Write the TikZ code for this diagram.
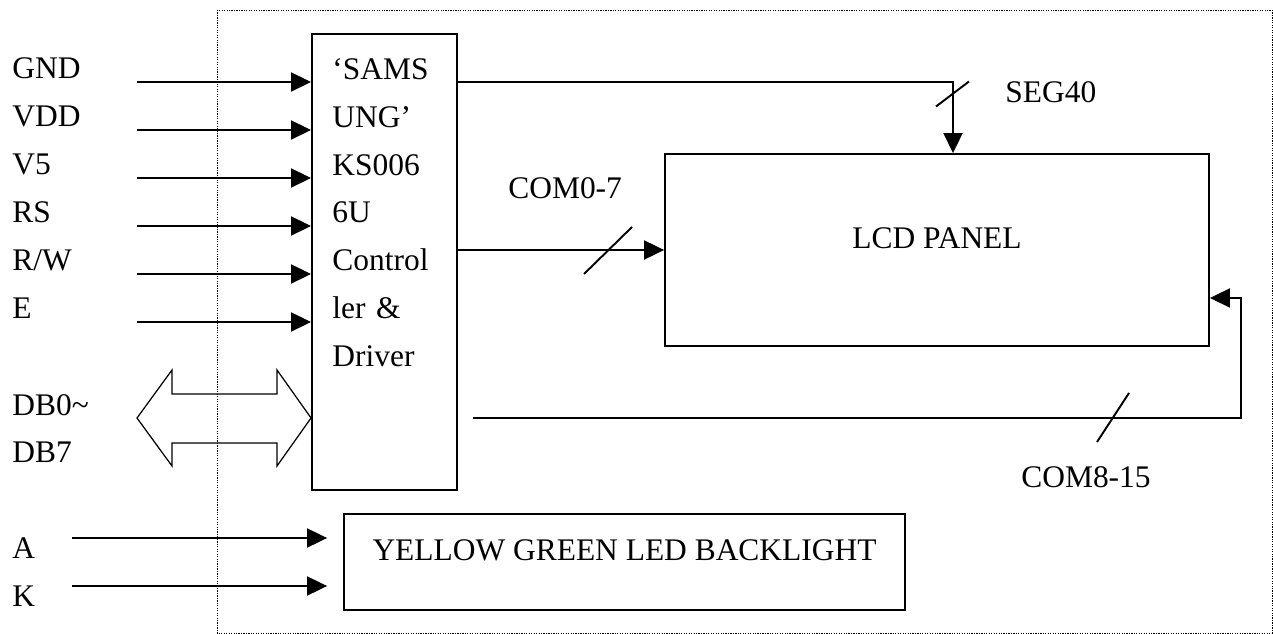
\documentclass[tikz,border=0pt]{standalone}
\usepackage{fontspec}
\setmainfont{Liberation Serif}
\usetikzlibrary{arrows.meta}
\tikzset{
  box/.style={
    rectangle, draw, line width=1.1pt, inner sep=0pt,
    font=\fontsize{17.9}{27.3}\selectfont
  },
  lbl/.style={font=\fontsize{17.9}{27.3}\selectfont, inner sep=0pt, anchor=base west},
  arrow/.style={-{Triangle[length=0.4cm, width=0.38cm]}, line width=1.1pt},
  slash/.style={line width=1.1pt},
  bus/.style={draw, line width=0.7pt, line join=miter},
  outline/.style={line width=0.5pt, dash pattern=on 0.7pt off 0.7pt}
}
\begin{document}
\begin{tikzpicture}[x=0.02cm, y=-0.02cm]
  \useasboundingbox (0,0) rectangle (1273,634);

  % Module outline
  \draw[outline] (217,10) rectangle (1272,633);

  % Controller
  \node[box, minimum width=2.9cm, minimum height=9.12cm] (ctrl) at (384.5,262) {};
  \node[lbl, text width=2.4cm, align=left] (ctrltxt)
    at ([shift={(21,46)}]ctrl.north west)
    {`SAMS\\UNG'\\KS006\\6U\\Control\\ler \&\\Driver};

  % Input signals
  \foreach \y/\txt [count=\i] in {82/GND, 130/VDD, 178/V5, 226/RS, 274/{R/W}, 322/E} {
    \node[lbl] (sig\i) at (12,\y-3) {\txt};
    \coordinate (in\i) at (137,\y);
    \draw[arrow] (in\i) -- (in\i -| ctrl.west);
  }

  % Data bus
  \coordinate (db) at (137,418);
  \draw[bus] (db) -- (172,370) -- (172,394) -- (277,394) -- (277,370)
    -- (db -| ctrl.west) -- (277,466) -- (277,443) -- (172,443)
    -- (172,466) -- cycle;
  \node[lbl] (db0) at (12,415) {DB0\textasciitilde};
  \node[lbl] (db7) at (12,462) {DB7};

  % LCD panel
  \node[box, minimum width=10.88cm, minimum height=3.84cm, text depth=0.48cm]
    (lcd) at (937,250) {LCD PANEL};

  % Backlight
  \node[box, minimum width=11.22cm, minimum height=1.92cm, text depth=0.48cm]
    (led) at (624.5,562) {YELLOW GREEN LED BACKLIGHT};
  \foreach \y/\txt [count=\i] in {538/A, 586/K} {
    \node[lbl] (pin\i) at (12,\y+20) {\txt};
    \coordinate (bl\i) at (72,\y);
    \draw[arrow] (bl\i) -- ([xshift=-0.32cm]bl\i -| led.west);
  }

  % SEG40
  \coordinate (seg) at (953,82);
  \draw[arrow] (in1 -| ctrl.east) -- (seg) -- (seg |- lcd.north);
  \draw[slash] (936,106.5) -- (969,81.5);
  \node[lbl] (seglbl) at (1005,103) {SEG40};

  % COM0-7
  \draw[arrow] (lcd.west -| ctrl.east) -- (lcd.west);
  \draw[slash] (584,274) -- (632,227);
  \node[lbl] (com0) at (508,199) {COM0-7};

  % COM8-15
  \coordinate (c8) at (473,418);
  \coordinate (c8turn) at (1241,418);
  \draw[arrow] (c8) -- (c8turn) |- ([yshift=-0.96cm]lcd.east);
  \draw[slash] (1097,442) -- (1129,393);
  \node[lbl] (com8) at (1021,487) {COM8-15};

\end{tikzpicture}
\end{document}
